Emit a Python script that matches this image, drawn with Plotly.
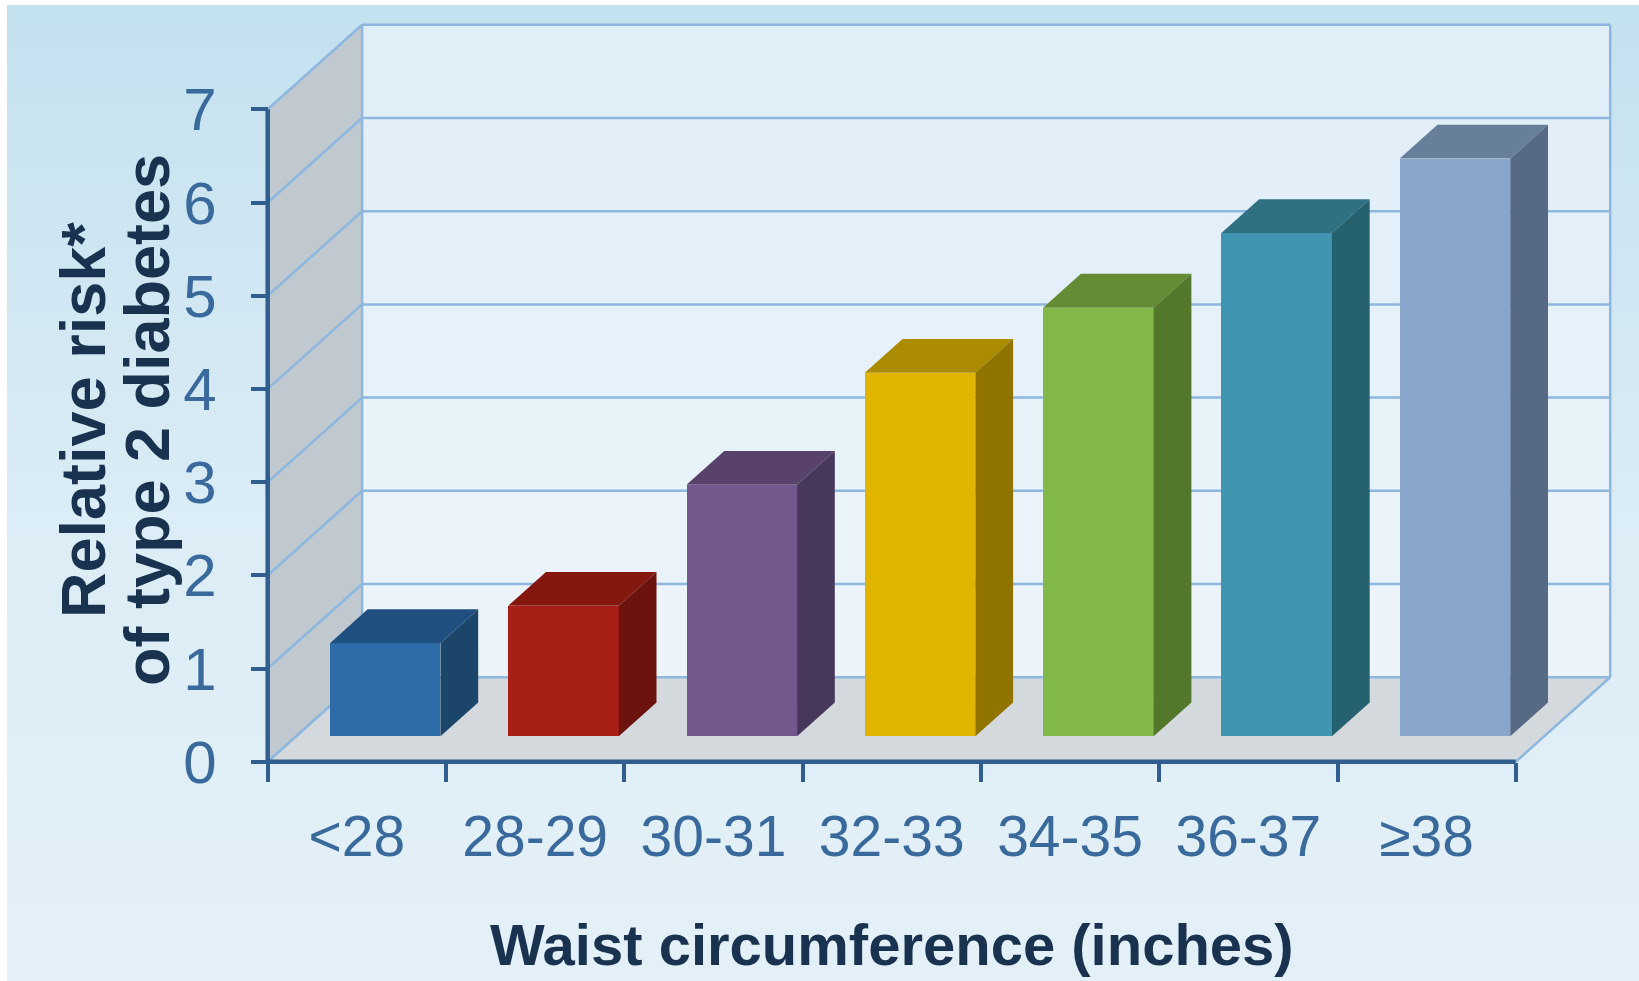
import plotly.graph_objects as go

# ---- data -------------------------------------------------------------
categories = ["<28", "28-29", "30-31", "32-33", "34-35", "36-37", "≥38"]
relative_risk = [1.0, 1.4, 2.7, 3.9, 4.6, 5.4, 6.2]
risk_ticks = [0, 1, 2, 3, 4, 5, 6, 7]

front_colors = ["#2d6ca8", "#a81f18", "#73588d", "#e0b400", "#82b848", "#4095b0", "#88a6cc"]
top_colors = ["#1f4f7e", "#84180f", "#58416b", "#ab8b00", "#658b34", "#2f7082", "#687f9c"]
side_colors = ["#1b4569", "#6c130d", "#47375b", "#917300", "#53782c", "#26616f", "#566a86"]

# ---- geometry ---------------------------------------------------------
W, H = 1639, 981
PX_CAT = 178.3          # pixels per category slot
PX_UNIT = 93.2          # pixels per unit of relative risk
ORIGIN_X, ORIGIN_Y = 267.7, 761.7   # front-left corner of the floor, in pixels
DX, DY = 94.4 / PX_CAT, 84.5 / PX_UNIT   # depth of the box, in axis units
BAR_W = 0.62
BAR_FRONT, BAR_BACK = 0.30, 0.70          # depth fractions of the bar faces
Y_TOP = risk_ticks[-1]
N = len(categories)
XL, XR = -0.5, N - 0.5

x_range = [XL - ORIGIN_X / PX_CAT, XL + (W - ORIGIN_X) / PX_CAT]
y_range = [-(H - ORIGIN_Y) / PX_UNIT, ORIGIN_Y / PX_UNIT]

AXIS_COLOR = "#2f5e8f"
GRID_COLOR = "#8db7de"
LABEL_COLOR = "#3a6a9c"
TITLE_COLOR = "#18324f"
SANS = "Liberation Sans, Arial, sans-serif"


def hex_mix(c1, c2, t):
    a = [int(c1[i:i + 2], 16) for i in (1, 3, 5)]
    b = [int(c2[i:i + 2], 16) for i in (1, 3, 5)]
    return "#" + "".join(f"{round(a[k] + (b[k] - a[k]) * t):02x}" for k in range(3))


shapes = []

# page background: soft vertical gradient inside a thin white frame
bands = 48
top_px, left_px = 6, 7
for k in range(bands):
    t = k / (bands - 1)
    y1 = 1 - top_px / H - k * (1 - top_px / H) / bands
    y0 = 1 - top_px / H - (k + 1) * (1 - top_px / H) / bands
    col = hex_mix("#c4e1ef", "#dcedf6", min(1, t / 0.55)) if t < 0.55 else hex_mix("#dcedf6", "#e4f0f7", (t - 0.55) / 0.45)
    shapes.append(dict(type="rect", xref="paper", yref="paper", x0=left_px / W, x1=1,
                       y0=y0, y1=y1 + 0.001, fillcolor=col, line_width=0, layer="below"))

# back wall, shaded band by band
for v in range(Y_TOP):
    col = hex_mix("#ecf4fa", "#e0eef8", v / (Y_TOP - 1))
    shapes.append(dict(type="rect", x0=XL + DX, x1=XR + DX, y0=v + DY, y1=v + 1 + DY,
                       fillcolor=col, line_width=0, layer="below"))

# left side wall
shapes.append(dict(type="path",
                   path=f"M {XL},0 L {XL},{Y_TOP} L {XL + DX},{Y_TOP + DY} L {XL + DX},{DY} Z",
                   fillcolor="#c0c9cf", line_width=0, layer="below"))
# floor
shapes.append(dict(type="path",
                   path=f"M {XL},0 L {XR},0 L {XR + DX},{DY} L {XL + DX},{DY} Z",
                   fillcolor="#d4d9de", line_width=0, layer="below"))

# gridlines on back wall and side wall
for v in risk_ticks:
    shapes.append(dict(type="line", x0=XL + DX, x1=XR + DX, y0=v + DY, y1=v + DY,
                       line=dict(color=GRID_COLOR, width=2.5), layer="below"))
    shapes.append(dict(type="line", x0=XL, x1=XL + DX, y0=v, y1=v + DY,
                       line=dict(color=GRID_COLOR, width=2.5), layer="below"))
for xe in (XL + DX, XR + DX):
    shapes.append(dict(type="line", x0=xe, x1=xe, y0=DY, y1=Y_TOP + DY,
                       line=dict(color=GRID_COLOR, width=2.5), layer="below"))
shapes.append(dict(type="line", x0=XR, x1=XR + DX, y0=0, y1=DY,
                   line=dict(color=GRID_COLOR, width=2.5), layer="below"))

# front axis lines
shapes.append(dict(type="line", x0=XL, x1=XL, y0=0, y1=Y_TOP,
                   line=dict(color=AXIS_COLOR, width=4.5), layer="above"))
shapes.append(dict(type="line", x0=XL, x1=XR, y0=0, y1=0,
                   line=dict(color=AXIS_COLOR, width=4.5), layer="above"))

fig = go.Figure()

# front faces of the bars
base = BAR_FRONT * DY
fig.add_trace(go.Bar(
    x=[i + BAR_FRONT * DX for i in range(N)], y=relative_risk, base=[base] * N,
    width=BAR_W, marker=dict(color=front_colors, line_width=0),
    hoverinfo="skip", showlegend=False))

# top and right-side faces of the bars
d = BAR_BACK - BAR_FRONT
for i, v in enumerate(relative_risk):
    xl = i + BAR_FRONT * DX - BAR_W / 2
    xr = xl + BAR_W
    top = base + v
    ox, oy = d * DX, d * DY
    fig.add_trace(go.Scatter(
        x=[xl, xr, xr + ox, xl + ox, xl], y=[top, top, top + oy, top + oy, top],
        fill="toself", fillcolor=top_colors[i], mode="lines", line=dict(width=0),
        hoverinfo="skip", showlegend=False))
    fig.add_trace(go.Scatter(
        x=[xr, xr, xr + ox, xr + ox, xr], y=[base, top, top + oy, base + oy, base],
        fill="toself", fillcolor=side_colors[i], mode="lines", line=dict(width=0),
        hoverinfo="skip", showlegend=False))

fig.update_layout(
    width=W, height=H, margin=dict(l=0, r=0, t=0, b=0),
    paper_bgcolor="white", plot_bgcolor="white",
    shapes=shapes, bargap=0,
    xaxis=dict(range=x_range, anchor="free", position=(H - ORIGIN_Y) / H,
               tickmode="array", tickvals=list(range(N)), ticktext=categories,
               ticks="outside", ticklen=19, tickcolor="rgba(0,0,0,0)",
               ticklabelstandoff=6,
               minor=dict(tickmode="array", tickvals=[XL + k for k in range(N + 1)],
                          ticks="outside", ticklen=19, tickwidth=4, tickcolor=AXIS_COLOR,
                          showgrid=False),
               tickfont=dict(family=SANS, size=57, color=LABEL_COLOR),
               showgrid=False, zeroline=False, showline=False, fixedrange=True),
    yaxis=dict(range=y_range, anchor="free", position=ORIGIN_X / W,
               tickmode="array", tickvals=risk_ticks,
               ticks="outside", ticklen=17, tickwidth=4, tickcolor=AXIS_COLOR,
               ticklabelstandoff=22,
               tickfont=dict(family=SANS, size=60, color=LABEL_COLOR),
               showgrid=False, zeroline=False, showline=False, fixedrange=True),
    annotations=[
        dict(text="<b>Relative risk*</b>", xref="paper", yref="paper",
             x=83 / W, y=1 - 420 / H, textangle=-90, showarrow=False,
             xanchor="center", yanchor="middle",
             font=dict(family=SANS, size=63, color=TITLE_COLOR)),
        dict(text="<b>of type 2 diabetes</b>", xref="paper", yref="paper",
             x=147 / W, y=1 - 420 / H, textangle=-90, showarrow=False,
             xanchor="center", yanchor="middle",
             font=dict(family=SANS, size=63, color=TITLE_COLOR)),
        dict(text="<b>Waist circumference (inches)</b>", xref="paper", yref="paper",
             x=891.7 / W, y=2 / H, showarrow=False,
             xanchor="center", yanchor="bottom",
             font=dict(family=SANS, size=58, color=TITLE_COLOR)),
    ],
)

fig.write_html("out.html")
